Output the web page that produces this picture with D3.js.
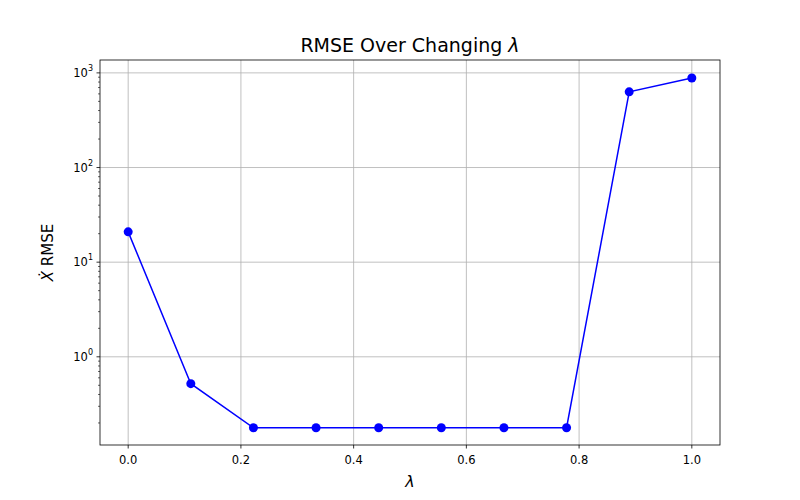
<!DOCTYPE html>
<html>
<head>
<meta charset="UTF-8" />
<script src="https://cdn.jsdelivr.net/npm/d3@7"></script>
<style>
  body { margin: 0; background: #fff; }
  text { font-family: "DejaVu Sans", sans-serif; }
</style>
</head>
<body>
<svg id="chart" width="800" height="500"></svg>
<script>
const lambdas = [0, 1/9, 2/9, 3/9, 4/9, 5/9, 6/9, 7/9, 8/9, 1];
const rmse = [20.9, 0.52, 0.178, 0.178, 0.178, 0.178, 0.178, 0.178, 630, 884];
const xTicks = [0, 0.2, 0.4, 0.6, 0.8, 1.0];
const yTicks = [1, 10, 100, 1000];

const m = { left: 100, right: 720, top: 60, bottom: 445 };
const svg = d3.select("#chart");

const x = d3.scaleLinear().domain([-0.05, 1.05]).range([m.left, m.right]);
const y = d3.scaleLog().domain([0.117, 1368]).range([m.bottom, m.top]);

// grid
svg.append("g").selectAll("line").data(xTicks).join("line")
  .attr("x1", d => x(d)).attr("x2", d => x(d))
  .attr("y1", m.top).attr("y2", m.bottom)
  .attr("stroke", "#b0b0b0").attr("stroke-width", 0.8);
svg.append("g").selectAll("line").data(yTicks).join("line")
  .attr("y1", d => y(d)).attr("y2", d => y(d))
  .attr("x1", m.left).attr("x2", m.right)
  .attr("stroke", "#b0b0b0").attr("stroke-width", 0.8);

// x axis
const xa = svg.append("g").attr("transform", `translate(0,${m.bottom})`);
xa.selectAll("line").data(xTicks).join("line")
  .attr("x1", d => x(d)).attr("x2", d => x(d)).attr("y1", 0).attr("y2", 3.5)
  .attr("stroke", "#000").attr("stroke-width", 0.8);
xa.selectAll("text").data(xTicks).join("text")
  .attr("x", d => x(d)).attr("y", 19).attr("text-anchor", "middle")
  .attr("font-size", 11.5).text(d => d.toFixed(1));

// y axis (major + minor)
const minor = [];
for (let e = -1; e <= 3; e++) for (let k = 2; k <= 9; k++) {
  const v = k * Math.pow(10, e);
  if (v >= y.domain()[0] && v <= y.domain()[1]) minor.push(v);
}
const ya = svg.append("g").attr("transform", `translate(${m.left},0)`);
ya.selectAll("line.minor").data(minor).join("line").attr("class", "minor")
  .attr("x1", -2).attr("x2", 0).attr("y1", d => y(d)).attr("y2", d => y(d))
  .attr("stroke", "#000").attr("stroke-width", 0.6);
ya.selectAll("line.major").data(yTicks).join("line").attr("class", "major")
  .attr("x1", -3.5).attr("x2", 0).attr("y1", d => y(d)).attr("y2", d => y(d))
  .attr("stroke", "#000").attr("stroke-width", 0.8);
const yl = ya.selectAll("text").data(yTicks).join("text")
  .attr("x", -7).attr("y", d => y(d) + 4).attr("text-anchor", "end").attr("font-size", 11.5);
yl.append("tspan").text("10");
yl.append("tspan").attr("dy", -6).attr("font-size", 8).text(d => Math.round(Math.log10(d)));

// frame
svg.append("rect").attr("x", m.left).attr("y", m.top)
  .attr("width", m.right - m.left).attr("height", m.bottom - m.top)
  .attr("fill", "none").attr("stroke", "#000").attr("stroke-width", 0.8);

// line + points
const pts = lambdas.map((l, i) => [l, rmse[i]]);
svg.append("path").datum(pts)
  .attr("d", d3.line().x(d => x(d[0])).y(d => y(d[1])))
  .attr("fill", "none").attr("stroke", "#0000ff").attr("stroke-width", 1.5);
svg.append("g").selectAll("circle").data(pts).join("circle")
  .attr("cx", d => x(d[0])).attr("cy", d => y(d[1])).attr("r", 4.5).attr("fill", "#0000ff");

// titles
const t = svg.append("text").attr("x", (m.left + m.right) / 2).attr("y", 52)
  .attr("text-anchor", "middle").attr("font-size", 19);
t.append("tspan").text("RMSE Over Changing ");
t.append("tspan").attr("font-style", "italic").text("λ");

svg.append("text").attr("x", (m.left + m.right) / 2).attr("y", 487)
  .attr("text-anchor", "middle").attr("font-size", 16).attr("font-style", "italic").text("λ");

const yt = svg.append("text").attr("transform", `translate(53,${(m.top + m.bottom) / 2}) rotate(-90)`)
  .attr("text-anchor", "middle").attr("font-size", 15);
yt.append("tspan").attr("font-style", "italic").text("X\u0307");
yt.append("tspan").text(" RMSE");
</script>
</body>
</html>
